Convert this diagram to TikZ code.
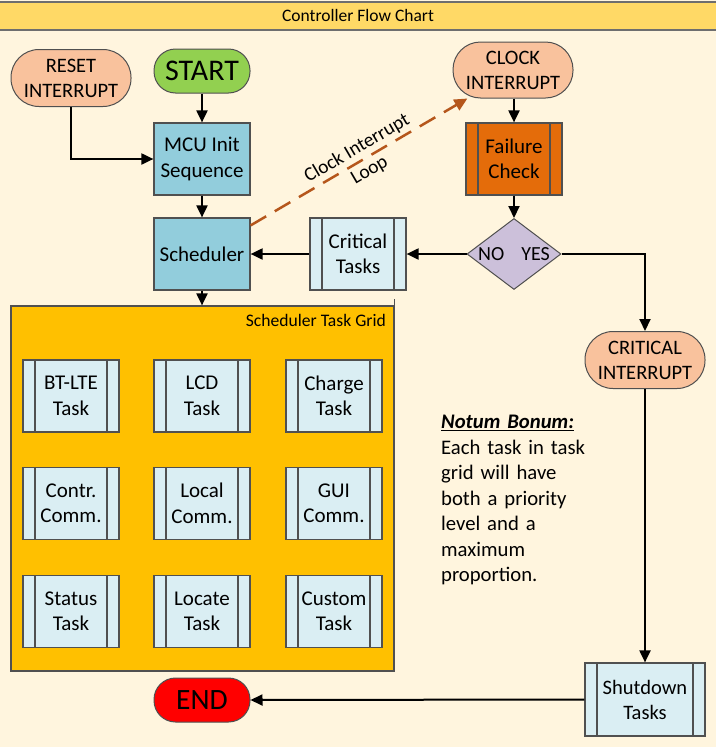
\documentclass[tikz,border=0pt]{standalone}
\usepackage{fontspec}
\setmainfont{Carlito}
\usetikzlibrary{arrows.meta,shapes.geometric}
\definecolor{bgc}{HTML}{FFF5DE}
\definecolor{titlec}{HTML}{FFD966}
\definecolor{titleline}{HTML}{6E6E6E}
\definecolor{peach}{HTML}{F9C29D}
\definecolor{greenc}{HTML}{92D050}
\definecolor{bluec}{HTML}{92CDDC}
\definecolor{ltblue}{HTML}{DAEEF3}
\definecolor{orangec}{HTML}{E46C0A}
\definecolor{lilac}{HTML}{CCC0DA}
\definecolor{gridc}{HTML}{FFC000}
\definecolor{redc}{HTML}{FF0000}
\definecolor{dashc}{HTML}{B5561B}
\definecolor{bordc}{HTML}{505050}
\tikzset{
  txt/.style={font=\fontsize{21}{25.5}\selectfont, align=center, inner sep=0pt, text=black},
  term/.style={txt, rectangle, draw=bordc, line width=1pt},
  proc/.style={txt, rectangle, draw=bordc, line width=1.2pt, minimum width=96pt, minimum height=72pt},
  subproc/.style={proc, fill=#1, path picture={
      \draw[bordc, line width=1.2pt]
        ([xshift=12pt]path picture bounding box.north west) -- ([xshift=12pt]path picture bounding box.south west)
        ([xshift=-12pt]path picture bounding box.north east) -- ([xshift=-12pt]path picture bounding box.south east);}},
  arr/.style={line width=2pt, -{Triangle[length=12pt,width=11pt]}},
}
\begin{document}
\begin{tikzpicture}[x=1pt,y=-1pt]
\useasboundingbox (0,0) rectangle (716,747);
\fill[bgc] (0,0) rectangle (716,747);
% title bar
\fill[titlec] (0,2) rectangle (716,30);
\draw[titleline, line width=2pt] (0,2) -- (716,2) (0,30) -- (716,30);
\node[anchor=base, font=\fontsize{17.5}{20}\selectfont, inner sep=0pt] (title) at (358,21) {Controller Flow Chart};

% terminals
\node[term, fill=peach, rounded corners=28pt, minimum width=120pt, minimum height=57pt, font=\fontsize{20.5}{25}\selectfont] (reset) at (71,78) {RESET\\INTERRUPT};
\node[term, fill=greenc, rounded corners=21.5pt, minimum width=96pt, minimum height=44pt, font=\fontsize{30}{32}\selectfont] (start) at (202,71) {START};
\node[term, fill=peach, rounded corners=27.5pt, minimum width=120pt, minimum height=56pt, font=\fontsize{20.5}{25}\selectfont] (clock) at (513,70) {CLOCK\\INTERRUPT};
\node[term, fill=peach, rounded corners=28pt, minimum width=120pt, minimum height=57pt, font=\fontsize{20.5}{25}\selectfont] (critint) at (645,360) {CRITICAL\\INTERRUPT};
\node[term, fill=redc, rounded corners=21.5pt, minimum width=96pt, minimum height=44pt, font=\fontsize{29.5}{32}\selectfont] (endn) at (202,700) {END};

% processes
\node[proc, fill=bluec] (mcu) at (202,159) {MCU Init\\Sequence};
\node[proc, fill=bluec] (sched) at (202,254) {Scheduler};
\node[subproc=ltblue] (crit) at (358,254) {Critical\\Tasks};
\node[subproc=orangec] (fail) at (514,159) {Failure\\Check};
\node[diamond, draw=bordc, line width=1pt, fill=lilac, minimum width=94pt, minimum height=71pt, inner sep=0pt,
      label={[txt, font=\fontsize{20}{24}\selectfont]center:NO\hspace{17pt}YES}] (dia) at (514,254) {};
\node[subproc=ltblue, minimum width=120pt, minimum height=73pt, font=\fontsize{20.5}{25}\selectfont] (shut) at (645,699.5) {Shutdown\\Tasks};

% task grid
\node[draw=bordc, line width=1.2pt, fill=gridc, minimum width=383pt, minimum height=365pt, inner sep=0pt] (grid) at (202.5,488.5) {};
\draw[bordc, line width=1.2pt] (grid.north east) -- ++(0,-6);
\node[anchor=base east, font=\fontsize{17.6}{20}\selectfont, inner sep=0pt] (gridlbl) at (386,326) {Scheduler Task Grid};
\node[subproc=ltblue] (t11) at (71,396) {BT-LTE\\Task};
\node[subproc=ltblue] (t12) at (202,396) {LCD\\Task};
\node[subproc=ltblue] (t13) at (334,396) {Charge\\Task};
\node[subproc=ltblue] (t21) at (71,503.5) {Contr.\\Comm.};
\node[subproc=ltblue] (t22) at (202,503.5) {Local\\Comm.};
\node[subproc=ltblue] (t23) at (334,503.5) {GUI\\Comm.};
\node[subproc=ltblue] (t31) at (71,611.5) {Status\\Task};
\node[subproc=ltblue] (t32) at (202,611.5) {Locate\\Task};
\node[subproc=ltblue] (t33) at (334,611.5) {Custom\\Task};

% note
\node[anchor=north west, align=left, inner sep=0pt, font=\fontsize{20.7}{25.5}\selectfont, text width=170pt] (note) at (441,415)
  {\underline{\textbf{\textit{Notum Bonum:}}}\\Each task in task\\grid will have\\both a priority\\level and a\\maximum\\proportion.};

% connectors
\draw[arr] (start) -- (mcu);
\draw[arr] (reset.south) |- (mcu.west);
\draw[arr] (mcu) -- (sched);
\draw[arr] (sched.south) -- (grid.north -| sched.south);
\draw[arr] (clock.south -| fail.north) -- (fail.north);
\draw[arr] (fail) -- (dia);
\draw[arr] (dia.west) -- (crit.east);
\draw[arr] (crit.west) -- (sched.east);
\draw[arr] (dia.east) -| (critint.north);
\draw[arr] (critint.south) -- (shut.north);
\draw[arr] (shut.west) -- (endn.east);
\draw[dashc, line width=2.5pt, dash pattern=on 18pt off 10pt, -{Triangle[length=13pt,width=12pt]}]
  ([yshift=-8pt]sched.north east) -- (clock.212)
  node[pos=0.52, sloped, txt, font=\fontsize{19.5}{25}\selectfont] (looplbl) {Clock Interrupt\\Loop};
\end{tikzpicture}
\end{document}
